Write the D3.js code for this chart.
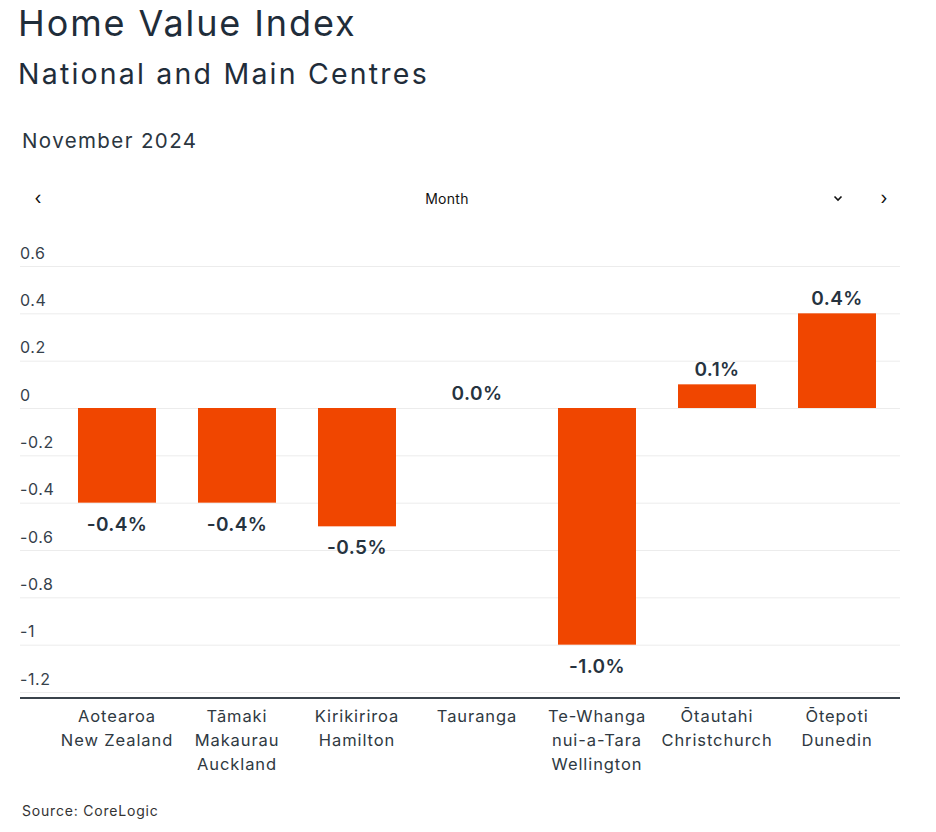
<!DOCTYPE html>
<html>
<head>
<meta charset="utf-8">
<script src="https://cdn.jsdelivr.net/npm/d3@7"></script>
<style>
  body { margin: 0; background: #fff; }
  svg text { font-family: Inter, "Noto Sans", sans-serif; }
</style>
</head>
<body>
<div id="chart"></div>
<script>
var categories = [
  ['Aotearoa', 'New Zealand'],
  ['Tāmaki', 'Makaurau', 'Auckland'],
  ['Kirikiriroa', 'Hamilton'],
  ['Tauranga'],
  ['Te-Whanga', 'nui-a-Tara', 'Wellington'],
  ['Ōtautahi', 'Christchurch'],
  ['Ōtepoti', 'Dunedin']
];
var values = [-0.4, -0.4, -0.5, 0.0, -1.0, 0.1, 0.4];
var yTicks = [0.6, 0.4, 0.2, 0, -0.2, -0.4, -0.6, -0.8, -1, -1.2];

var width = 936, height = 832;
var svg = d3.select('#chart').append('svg')
  .attr('width', width)
  .attr('height', height);

var ink = '#1f2d3a';

// Titles
svg.append('text').attr('x', 18).attr('y', 36)
  .attr('font-size', 36).attr('letter-spacing', 1.9).attr('fill', ink).text('Home Value Index');
svg.append('text').attr('x', 18).attr('y', 84)
  .attr('font-size', 28.5).attr('letter-spacing', 2.2).attr('fill', ink).text('National and Main Centres');
svg.append('text').attr('x', 22).attr('y', 148)
  .attr('font-size', 20.5).attr('letter-spacing', 1.4).attr('fill', '#2b3640').text('November 2024');

// Navigation row
svg.append('text').attr('x', 38).attr('y', 204).attr('text-anchor', 'middle')
  .attr('font-size', 18).attr('fill', '#111').text('‹');
svg.append('text').attr('x', 447).attr('y', 204).attr('text-anchor', 'middle')
  .attr('font-size', 14).attr('letter-spacing', 0.3).attr('fill', '#111').text('Month');
svg.append('path').attr('d', 'M834.5,196.5 L838,200 L841.5,196.5')
  .attr('fill', 'none').attr('stroke', '#111').attr('stroke-width', 1.6);
svg.append('text').attr('x', 884).attr('y', 204).attr('text-anchor', 'middle')
  .attr('font-size', 18).attr('fill', '#111').text('›');

// Scales
var x = d3.scaleBand()
  .domain(d3.range(categories.length))
  .range([57, 897])
  .paddingInner(0.35)
  .paddingOuter(0.175);
var y = d3.scaleLinear().domain([-1.2, 0.6]).range([692, 266]);

// Grid + y tick labels
var yAxis = svg.append('g')
  .attr('transform', 'translate(20,0)')
  .call(d3.axisRight(y).tickValues(yTicks).tickSize(880));
yAxis.select('.domain').remove();
yAxis.selectAll('.tick line').attr('stroke', '#ececec');
yAxis.selectAll('.tick text')
  .attr('x', 0).attr('dy', -8)
  .attr('text-anchor', 'start')
  .attr('font-size', 16)
  .attr('letter-spacing', 0.6)
  .attr('fill', '#36414b')
  .style('font-family', 'Inter, "Noto Sans", sans-serif')
  .text(function(d) { return String(d); });

// Bars
svg.append('g').selectAll('rect')
  .data(values)
  .enter().append('rect')
  .attr('x', function(d, i) { return x(i); })
  .attr('width', x.bandwidth())
  .attr('y', function(d) { return y(Math.max(0, d)); })
  .attr('height', function(d) { return Math.abs(y(d) - y(0)); })
  .attr('fill', '#f04600');

// Value labels
svg.append('g').selectAll('text')
  .data(values)
  .enter().append('text')
  .attr('x', function(d, i) { return x(i) + x.bandwidth() / 2; })
  .attr('y', function(d) { return d < 0 ? y(d) + 28 : y(d) - 8; })
  .attr('text-anchor', 'middle')
  .attr('font-size', 19)
  .attr('font-weight', 600)
  .attr('letter-spacing', 0.4)
  .attr('fill', '#26333f')
  .text(function(d) { return d.toFixed(1) + '%'; });

// Bottom axis line
svg.append('line')
  .attr('x1', 20).attr('x2', 900)
  .attr('y1', y(-1.2) + 6).attr('y2', y(-1.2) + 6)
  .attr('stroke', '#3a434b').attr('stroke-width', 2);

// Category labels
var cat = svg.append('g').selectAll('text')
  .data(categories)
  .enter().append('text')
  .attr('x', function(d, i) { return x(i) + x.bandwidth() / 2; })
  .attr('y', 722)
  .attr('text-anchor', 'middle')
  .attr('font-size', 16.5)
  .attr('letter-spacing', 0.9)
  .attr('fill', '#2f3942');
cat.selectAll('tspan')
  .data(function(d) { return d; })
  .enter().append('tspan')
  .attr('x', function() { return d3.select(this.parentNode).attr('x'); })
  .attr('dy', function(d, j) { return j === 0 ? 0 : 24; })
  .text(function(d) { return d; });

// Source
svg.append('text').attr('x', 22).attr('y', 816)
  .attr('font-size', 14).attr('letter-spacing', 0.8).attr('fill', '#333').text('Source: CoreLogic');
</script>
</body>
</html>
